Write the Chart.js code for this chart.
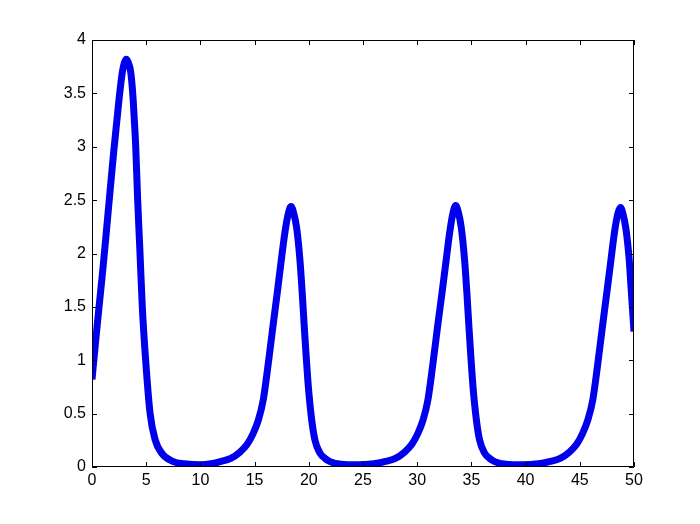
<!DOCTYPE html>
<html>
<head>
<meta charset="utf-8">
<script src="https://cdn.jsdelivr.net/npm/chart.js@4"></script>
<style>
  html, body { margin: 0; padding: 0; background: #fff; }
</style>
</head>
<body>
<canvas id="plot" width="700" height="524"></canvas>
<script>
// time values
const tValues = [
    0, 0.5, 1.0, 1.5, 2.0, 2.5, 2.8, 3.0, 3.15, 3.3, 3.57, 3.75, 3.9, 4.03, 4.21, 4.43, 4.64, 4.95, 5.35, 5.81, 6.43, 7.5, 8.5, 10, 11,
    11.8, 12.8, 13.65, 14.3, 14.85, 15.35, 15.8, 16.25, 16.67, 17.1, 17.44, 17.8, 18.1, 18.36, 18.6, 18.88, 19.19, 19.4, 19.59, 19.75, 19.96, 20.27, 20.57, 21.03, 21.5, 21.96, 23, 24.5, 26,
    26.99, 27.99, 28.84, 29.49, 30.04, 30.54, 30.99, 31.44, 31.86, 32.3, 32.65, 33.0, 33.3, 33.55, 33.79, 34.07, 34.38, 34.59, 34.78, 34.94, 35.15, 35.46, 35.76, 36.22, 36.69, 37.15, 38.2, 39.7, 41.2,
    42.19, 43.19, 44.04, 44.69, 45.24, 45.74, 46.2, 46.65, 47.07, 47.5, 47.85, 48.2, 48.5, 48.75, 48.99, 49.27, 49.55, 49.75, 50
];
// y values
const yValues = [
    0.82, 1.35, 1.85, 2.4, 2.95, 3.45, 3.7, 3.79, 3.82, 3.8, 3.7, 3.51, 3.26, 3.01, 2.51, 2.0, 1.5, 1.0, 0.51, 0.26, 0.13, 0.05, 0.03, 0.02, 0.03,
    0.05, 0.08, 0.14, 0.21, 0.31, 0.44, 0.63, 0.96, 1.3, 1.64, 1.92, 2.2, 2.37, 2.44, 2.38, 2.24, 1.93, 1.62, 1.3, 1.05, 0.75, 0.44, 0.25, 0.13, 0.08, 0.05, 0.025, 0.02, 0.03,
    0.05, 0.08, 0.14, 0.21, 0.31, 0.44, 0.63, 0.96, 1.3, 1.64, 1.92, 2.2, 2.38, 2.45, 2.39, 2.24, 1.93, 1.62, 1.3, 1.05, 0.75, 0.44, 0.25, 0.13, 0.08, 0.05, 0.025, 0.02, 0.03,
    0.05, 0.08, 0.14, 0.21, 0.31, 0.44, 0.63, 0.96, 1.3, 1.64, 1.92, 2.2, 2.37, 2.43, 2.37, 2.22, 1.95, 1.65, 1.27
];
const xTicks = [0, 5, 10, 15, 20, 25, 30, 35, 40, 45, 50];
const yTicks = [0, 0.5, 1, 1.5, 2, 2.5, 3, 3.5, 4];

const points = tValues.map((t, i) => ({x: t, y: yValues[i]}));

// matlab style box with inward ticks
const axesBox = {
    id: "axesBox",
    afterDraw(chart) {
        const ctx = chart.ctx;
        const area = chart.chartArea;
        const xs = chart.scales.x;
        const ys = chart.scales.y;
        const len = 5;
        ctx.save();
        ctx.strokeStyle = "#000";
        ctx.lineWidth = 1;
        ctx.beginPath();
        ctx.rect(area.left + 0.5, area.top + 0.5, area.right - area.left - 1, area.bottom - area.top - 1);
        xTicks.forEach(v => {
            const px = Math.round(xs.getPixelForValue(v)) + 0.5;
            ctx.moveTo(px, area.bottom);
            ctx.lineTo(px, area.bottom - len);
            ctx.moveTo(px, area.top);
            ctx.lineTo(px, area.top + len);
        });
        yTicks.forEach(v => {
            const py = Math.round(ys.getPixelForValue(v)) + 0.5;
            ctx.moveTo(area.left, py);
            ctx.lineTo(area.left + len, py);
            ctx.moveTo(area.right, py);
            ctx.lineTo(area.right - len, py);
        });
        ctx.stroke();
        ctx.restore();
    }
};

const tickFont = {family: "'Liberation Sans', Arial, sans-serif", size: 16};

new Chart(document.getElementById("plot").getContext("2d"), {
    type: "line",
    data: {
        datasets: [{
            data: points,
            borderColor: "rgb(0, 0, 235)",
            borderWidth: 7,
            pointRadius: 0,
            cubicInterpolationMode: "monotone",
            clip: 0
        }]
    },
    options: {
        responsive: false,
        animation: false,
        layout: {padding: {top: 40, right: 66, left: 0, bottom: 0}},
        plugins: {legend: {display: false}, tooltip: {enabled: false}},
        scales: {
            x: {
                type: "linear",
                min: 0,
                max: 50,
                afterFit: s => { s.height = 57; },
                afterBuildTicks: s => { s.ticks = xTicks.map(v => ({value: v})); },
                grid: {display: false, drawTicks: false},
                border: {display: false},
                ticks: {color: "#000", font: tickFont, padding: 4, maxRotation: 0, autoSkip: false,
                        callback: v => String(v)}
            },
            y: {
                type: "linear",
                min: 0,
                max: 4,
                afterFit: s => { s.width = 92; },
                afterBuildTicks: s => { s.ticks = yTicks.map(v => ({value: v})); },
                grid: {display: false, drawTicks: false},
                border: {display: false},
                ticks: {color: "#000", font: tickFont, padding: 6, autoSkip: false,
                        callback: v => String(v)}
            }
        }
    },
    plugins: [axesBox]
});
</script>
</body>
</html>
